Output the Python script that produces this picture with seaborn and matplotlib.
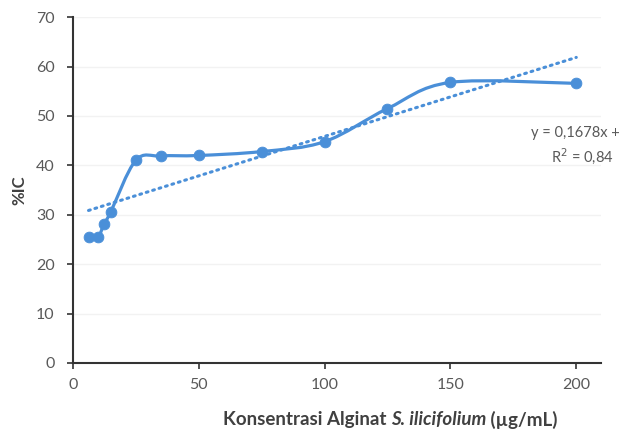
import numpy as np
import matplotlib
matplotlib.use("Agg")
import matplotlib.pyplot as plt
import seaborn as sns
from matplotlib.path import Path
from matplotlib.patches import PathPatch

# Data
konsentrasi = [6.25, 10, 12.5, 15, 25, 35, 50, 75, 100, 125, 150, 200]
persen_ic = [25.4, 25.5, 28.2, 30.5, 41.0, 41.9, 42.0, 42.8, 44.8, 51.5, 56.8, 56.6]
x_ticks = [0, 50, 100, 150, 200]
y_ticks = [0, 10, 20, 30, 40, 50, 60, 70]
persamaan = "y = 0,1678x +"
r_kuadrat = "R$^2$ = 0,84"
label_x = ["Konsentrasi Alginat ", "S. ilicifolium", " (µg/mL)"]

BIRU = "#4a8fd8"
ABU = "#595959"
GELAP = "#404040"

sns.set_theme(style="white")
plt.rcParams["font.family"] = ["Lato", "DejaVu Sans"]

fig = plt.figure(figsize=(6.22, 4.41), dpi=100)
ax = fig.add_axes([0.117, 0.177, 0.85, 0.784])

# garis halus ala Excel (Catmull-Rom -> bezier kubik)
x = np.array(konsentrasi, dtype=float)
y = np.array(persen_ic, dtype=float)
verts = [(x[0], y[0])]
codes = [Path.MOVETO]
t = 1 / 6
for i in range(len(x) - 1):
    p0 = (x[max(i - 1, 0)], y[max(i - 1, 0)])
    p1 = (x[i], y[i])
    p2 = (x[i + 1], y[i + 1])
    p3 = (x[min(i + 2, len(x) - 1)], y[min(i + 2, len(x) - 1)])
    c1 = (p1[0] + (p2[0] - p0[0]) * t, p1[1] + (p2[1] - p0[1]) * t)
    c2 = (p2[0] - (p3[0] - p1[0]) * t, p2[1] - (p3[1] - p1[1]) * t)
    verts += [c1, c2, p2]
    codes += [Path.CURVE4] * 3
ax.add_patch(PathPatch(Path(verts, codes), fill=False, edgecolor=BIRU, lw=2.3, zorder=3))

sns.scatterplot(x=konsentrasi, y=persen_ic, ax=ax, color=BIRU, s=60, edgecolor=BIRU, zorder=4)

# garis tren linear
slope, intercept = np.polyfit(x, y, 1)
xt = np.array([x.min(), x.max()])
sns.lineplot(x=xt, y=slope * xt + intercept, ax=ax, color=BIRU, lw=2.2,
             linestyle=(0, (0.6, 1.6)), dash_capstyle="round", zorder=2)

ax.set_xlim(0, 210)
ax.set_ylim(0, 70)
ax.set_xticks(x_ticks)
ax.set_yticks(y_ticks)
ax.grid(axis="y", color="#f2f2f2", lw=1)
for s in ["top", "right"]:
    ax.spines[s].set_visible(False)
for s in ["left", "bottom"]:
    ax.spines[s].set_color("#333333")
    ax.spines[s].set_linewidth(1.5)
ax.tick_params(axis="both", colors="#333333", labelcolor=ABU, labelsize=11.5,
               direction="out", length=4, width=1.2, left=True, bottom=True)
ax.tick_params(axis="x", pad=7)
ax.tick_params(axis="y", pad=9)
ax.set_ylabel("%IC", fontsize=12, fontweight="bold", color=GELAP, labelpad=6)

# label sumbu x: tiga bagian (bagian tengah miring)
fig.canvas.draw()
r = fig.canvas.get_renderer()
gaya = ["normal", "italic", "normal"]
lebar = []
teks = []
for s, g in zip(label_x, gaya):
    tx = fig.text(0, 0.048, s, fontsize=13.5, fontweight="bold", style=g, color=GELAP, va="center")
    teks.append(tx)
    lebar.append(tx.get_window_extent(r).width)
x0 = 390 - sum(lebar) / 2
for tx, w in zip(teks, lebar):
    tx.set_x(x0 / 622)
    x0 += w

fig.text(0.997, 0.698, persamaan, ha="right", va="center", fontsize=10.5, color=ABU)
fig.text(0.986, 0.647, r_kuadrat, ha="right", va="center", fontsize=10.5, color=ABU)

fig.savefig("out.png", dpi=100)
